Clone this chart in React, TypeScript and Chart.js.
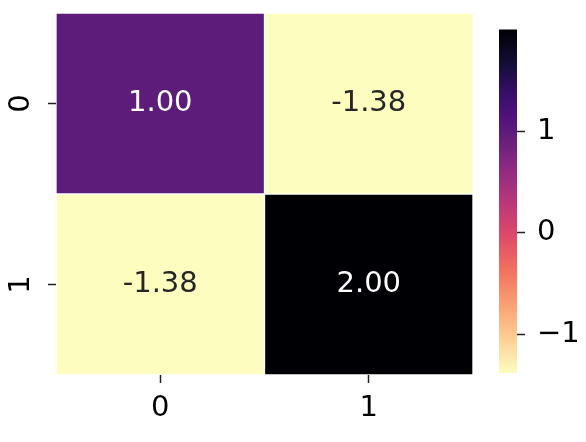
import React, { useEffect, useRef } from "react";
import { Chart, registerables } from "chart.js";

Chart.register(...registerables);

// ---- data ----
const colLabels = ["0", "1"];
const rowLabels = ["0", "1"];
const row0Values = [1.0, -1.38];
const row1Values = [-1.38, 2.0];
const rowValues = [row0Values, row1Values];
const vmin = -1.38;
const vmax = 2.0;
const colorbarTicks = [-1, 0, 1];

// magma colormap stops (t, hex)
const magmaStops: [number, string][] = [
  [0.0, "#000004"],
  [0.1, "#140e36"],
  [0.2, "#3b0f70"],
  [0.25, "#4f127b"],
  [0.3, "#5e1c7a"],
  [0.4, "#8c2981"],
  [0.5, "#b73779"],
  [0.6, "#de4968"],
  [0.7, "#f1715f"],
  [0.8, "#fb9f72"],
  [0.9, "#fdcf95"],
  [1.0, "#fcfdbf"],
];

const FONT = "'DejaVu Sans', sans-serif";
const FS = 29;

function hexToRgb(h: string) {
  const n = parseInt(h.slice(1), 16);
  return [(n >> 16) & 255, (n >> 8) & 255, n & 255];
}

function magma(t: number): number[] {
  t = Math.max(0, Math.min(1, t));
  for (let i = 0; i < magmaStops.length - 1; i++) {
    const [t0, c0] = magmaStops[i];
    const [t1, c1] = magmaStops[i + 1];
    if (t >= t0 && t <= t1) {
      const f = (t - t0) / (t1 - t0);
      const a = hexToRgb(c0);
      const b = hexToRgb(c1);
      return a.map((v, k) => Math.round(v + (b[k] - v) * f));
    }
  }
  return hexToRgb(magmaStops[magmaStops.length - 1][1]);
}

// magma_r
function cmap(v: number): number[] {
  const t = (v - vmin) / (vmax - vmin);
  return magma(1 - t);
}
function rgbStr(c: number[]) {
  return `rgb(${c[0]},${c[1]},${c[2]})`;
}

const annotPlugin = {
  id: "annot",
  afterDatasetsDraw(chart: any) {
    const ctx = chart.ctx;
    ctx.save();
    ctx.font = `${FS}px ${FONT}`;
    ctx.textAlign = "center";
    ctx.textBaseline = "middle";
    chart.data.datasets.forEach((ds: any, di: number) => {
      const meta = chart.getDatasetMeta(di);
      meta.data.forEach((el: any, i: number) => {
        const v = ds.values[i];
        const c = cmap(v);
        const lum = (0.299 * c[0] + 0.587 * c[1] + 0.114 * c[2]) / 255;
        ctx.fillStyle = lum > 0.408 ? "#262626" : "#ffffff";
        const p = el.getCenterPoint();
        ctx.fillText(v.toFixed(2), p.x, p.y);
      });
    });
    ctx.restore();
  },
};

const yLabelPlugin = {
  id: "ylabels",
  afterDraw(chart: any) {
    const scale = chart.scales.y;
    const ctx = chart.ctx;
    ctx.save();
    ctx.font = `${FS}px ${FONT}`;
    ctx.fillStyle = "#000";
    ctx.textAlign = "center";
    ctx.textBaseline = "middle";
    scale.ticks.forEach((t: any, i: number) => {
      const y = scale.getPixelForValue(t.value);
      const x = scale.right - 35;
      ctx.save();
      ctx.translate(x, y);
      ctx.rotate(-Math.PI / 2);
      ctx.fillText(rowLabels[i], 0, 0);
      ctx.restore();
    });
    ctx.restore();
  },
};

export default function App() {
  const mainRef = useRef<HTMLCanvasElement>(null);
  const cbRef = useRef<HTMLCanvasElement>(null);

  useEffect(() => {
    document.body.style.margin = "0";
    const datasets = rowValues.map((vals, r) => ({
      label: "row " + rowLabels[r],
      data: vals.map(() => [r, r + 1]),
      values: vals,
      backgroundColor: vals.map((v) => rgbStr(cmap(v))),
      borderColor: "rgba(255,255,255,0.16)",
      borderWidth: 1,
      borderSkipped: false,
      grouped: false,
      barPercentage: 1,
      categoryPercentage: 1,
    }));

    const main = new Chart(mainRef.current!, {
      type: "bar",
      data: { labels: colLabels, datasets: datasets as any },
      options: {
        animation: false,
        responsive: false,
        maintainAspectRatio: false,
        events: [],
        layout: { padding: { top: 13, right: 7, left: 0, bottom: 0 } },
        plugins: { legend: { display: false }, tooltip: { enabled: false } },
        scales: {
          x: {
            type: "category",
            offset: true,
            grid: {
              display: true,
              offset: false,
              drawOnChartArea: false,
              drawTicks: true,
              tickLength: 8,
              tickWidth: 1.5,
              tickColor: "#222",
            },
            border: { display: false },
            ticks: {
              color: "#000",
              font: { family: FONT, size: FS },
              padding: 8,
              maxRotation: 0,
            },
            afterFit: (s: any) => {
              s.height = 442 - 375;
            },
          },
          y: {
            type: "linear",
            min: 0,
            max: 2,
            reverse: true,
            afterBuildTicks: (s: any) => {
              s.ticks = rowLabels.map((_, i) => ({ value: i + 0.5 }));
            },
            grid: {
              display: true,
              drawOnChartArea: false,
              drawTicks: true,
              tickLength: 8,
              tickWidth: 1.5,
              tickColor: "#222",
            },
            border: { display: false },
            ticks: { display: false },
            afterFit: (s: any) => {
              s.width = 56;
            },
          },
        },
      } as any,
      plugins: [annotPlugin, yLabelPlugin],
    });

    const cb = new Chart(cbRef.current!, {
      type: "bar",
      data: {
        labels: [""],
        datasets: [
          {
            data: [[vmin, vmax]],
            backgroundColor: (c: any) => {
              const ca = c.chart.chartArea;
              if (!ca) return "#fff";
              const g = c.chart.ctx.createLinearGradient(0, ca.bottom, 0, ca.top);
              magmaStops.forEach(([t, hex]) => {
                g.addColorStop(1 - t, hex);
              });
              return g;
            },
            borderWidth: 0,
            barPercentage: 1,
            categoryPercentage: 1,
          } as any,
        ],
      },
      options: {
        animation: false,
        responsive: false,
        maintainAspectRatio: false,
        events: [],
        layout: { padding: { top: 10, left: 19, right: 0, bottom: 69 } },
        plugins: { legend: { display: false }, tooltip: { enabled: false } },
        scales: {
          x: { display: false },
          y: {
            position: "right",
            min: vmin,
            max: vmax,
            afterBuildTicks: (s: any) => {
              s.ticks = colorbarTicks.map((v) => ({ value: v }));
            },
            grid: {
              display: true,
              drawOnChartArea: false,
              drawTicks: true,
              tickLength: 8,
              tickWidth: 1.5,
              tickColor: "#222",
            },
            border: { display: false },
            ticks: {
              color: "#000",
              font: { family: FONT, size: FS },
              padding: 12,
              callback: (v: any) => (v < 0 ? "\u2212" + Math.abs(v) : String(v)),
            },
            afterFit: (s: any) => {
              s.width = 106 - 37;
            },
          },
        },
      } as any,
    });

    return () => {
      main.destroy();
      cb.destroy();
    };
  }, []);

  return (
    <div style={{ position: "relative", width: 586, height: 442, background: "#fff" }}>
      <canvas
        ref={mainRef}
        width={480}
        height={442}
        style={{ position: "absolute", left: 0, top: 0, width: 480, height: 442 }}
      />
      <canvas
        ref={cbRef}
        width={106}
        height={442}
        style={{ position: "absolute", left: 480, top: 0, width: 106, height: 442 }}
      />
    </div>
  );
}
